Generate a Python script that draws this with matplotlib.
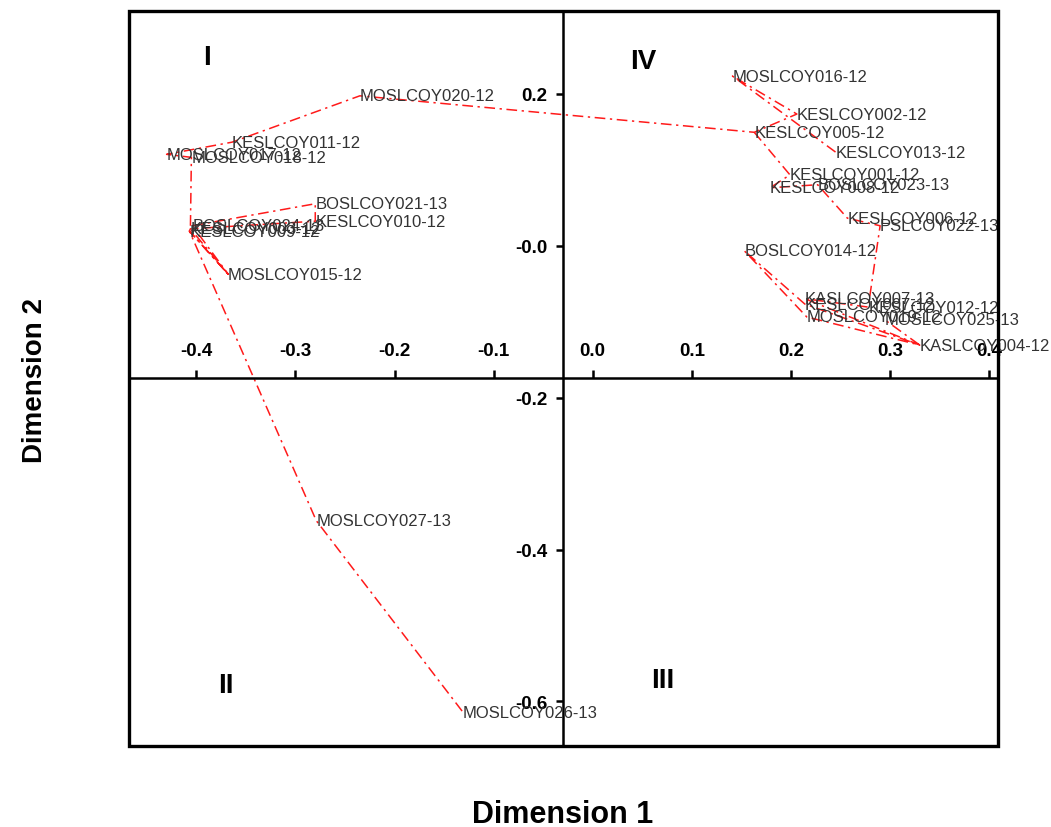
import matplotlib
matplotlib.use("Agg")
import matplotlib.pyplot as plt
from matplotlib.patches import Rectangle

# ---- data ----
labels = [
    "MOSLCOY026-13", "MOSLCOY027-13", "MOSLCOY015-12",
    "BOSLCOY024-13", "KESLCOY003-12", "KESLCOY009-12",
    "KESLCOY010-12", "BOSLCOY021-13", "MOSLCOY018-12", "MOSLCOY017-12",
    "KESLCOY011-12", "MOSLCOY020-12", "MOSLCOY016-12", "KESLCOY002-12",
    "KESLCOY005-12", "KESLCOY013-12", "KESLCOY001-12", "KESLCOY008-12",
    "BOSLCOY023-13", "KESLCOY006-12", "PSLCOY022-13", "BOSLCOY014-12",
    "KASLCOY007-13", "KESLCOY007-12", "KESLCOY012-12", "MOSLCOY019-12",
    "MOSLCOY025-13", "KASLCOY004-12",
]
dim1 = [
    -0.131, -0.279, -0.368,
    -0.404, -0.406, -0.407,
    -0.280, -0.280, -0.405, -0.430,
    -0.364, -0.235, 0.141, 0.206,
    0.163, 0.245, 0.199, 0.179,
    0.227, 0.257, 0.290, 0.153,
    0.214, 0.214, 0.278, 0.216,
    0.295, 0.330,
]
dim2 = [
    -0.614, -0.362, -0.0375,
    0.026, 0.022, 0.019,
    0.032, 0.055, 0.116, 0.120,
    0.136, 0.197, 0.223, 0.173,
    0.149, 0.123, 0.093, 0.076,
    0.080, 0.036, 0.026, -0.007,
    -0.070, -0.077, -0.081, -0.094,
    -0.098, -0.131,
]

path_a = ["KESLCOY013-12", "MOSLCOY016-12", "KESLCOY002-12", "KESLCOY005-12",
          "MOSLCOY020-12", "KESLCOY011-12", "MOSLCOY017-12", "MOSLCOY018-12",
          "KESLCOY003-12", "MOSLCOY015-12", "BOSLCOY024-13", "BOSLCOY021-13",
          "KESLCOY010-12", "KESLCOY003-12", "KESLCOY009-12", "MOSLCOY015-12",
          "KESLCOY009-12", "MOSLCOY027-13", "MOSLCOY026-13"]
path_b = ["KESLCOY005-12", "KESLCOY001-12", "KESLCOY008-12", "BOSLCOY023-13",
          "KESLCOY006-12", "PSLCOY022-13", "KESLCOY012-12", "KASLCOY007-13",
          "KASLCOY004-12", "MOSLCOY019-12", "BOSLCOY014-12", "KESLCOY007-12",
          "KASLCOY004-12", "MOSLCOY025-13"]

xticks = [-0.4, -0.3, -0.2, -0.1, 0.0, 0.1, 0.2, 0.3, 0.4]
xticklabels = ["-0.4", "-0.3", "-0.2", "-0.1", "0.0", "0.1", "0.2", "0.3", "0.4"]
yticks = [0.2, 0.0, -0.2, -0.4, -0.6]
yticklabels = ["0.2", "-0.0", "-0.2", "-0.4", "-0.6"]

quadrants = ["I", "IV", "II", "III"]
quad_pos = [(0.0898, 0.937), (0.5914, 0.932), (0.1116, 0.083), (0.6145, 0.0898)]

# ---- figure ----
plt.rcParams['font.family'] = ['Liberation Sans', 'DejaVu Sans']
fig = plt.figure(figsize=(10.51, 8.28), dpi=100)
ax = fig.add_axes([0.1227, 0.0978, 0.8269, 0.8877])
ax.set_xlim(-0.468, 0.409)
ax.set_ylim(-0.6586, 0.3086)

idx = {n: i for i, n in enumerate(labels)}
for path in (path_a, path_b):
    xs = [dim1[idx[n]] for n in path]
    ys = [dim2[idx[n]] for n in path]
    ax.plot(xs, ys, color="#ff1a1a", lw=1.1, linestyle=(0, (7, 3, 1.5, 3)), zorder=2)

for n, x, y in zip(labels, dim1, dim2):
    ax.text(x, y, n, fontsize=12, color="#333333", ha="left", va="center", zorder=3)

for q, (qx, qy) in zip(quadrants, quad_pos):
    ax.text(qx, qy, q, transform=ax.transAxes, fontsize=20, fontweight="bold",
            ha="center", va="center", color="black")

# axes crossing inside
for s in ("top", "right"):
    ax.spines[s].set_visible(False)
ax.spines["left"].set_position(("data", -0.03))
ax.spines["bottom"].set_position(("data", -0.174))
ax.spines["left"].set_linewidth(1.8)
ax.spines["bottom"].set_linewidth(1.8)

ax.set_xticks(xticks)
ax.set_xticklabels(xticklabels, fontweight="bold")
ax.set_yticks(yticks)
ax.set_yticklabels(yticklabels, fontweight="bold")
ax.tick_params(axis="x", direction="in", length=6, width=1.8, pad=-26, labelsize=13.5)
ax.tick_params(axis="y", direction="out", length=5, width=1.8, pad=6, labelsize=13.5)

ax.add_patch(Rectangle((0, 0), 1, 1, transform=ax.transAxes, fill=False,
                       lw=2.4, edgecolor="black", clip_on=False, zorder=5))

fig.text(0.5357, 0.0157, "Dimension 1", fontsize=22, fontweight="bold",
         ha="center", va="center")
fig.text(0.033, 0.541, "Dimension 2", fontsize=20, fontweight="bold",
         ha="center", va="center", rotation=90)

fig.savefig("out.png", dpi=100)
